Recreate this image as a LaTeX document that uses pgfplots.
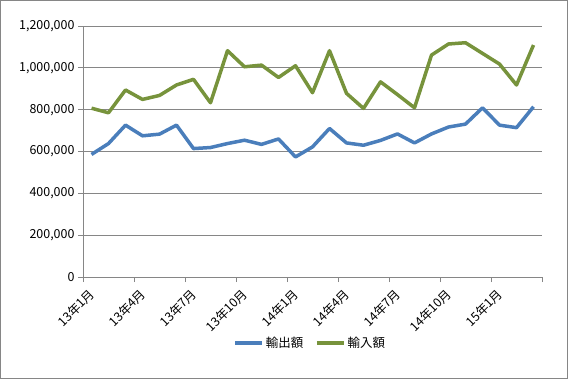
\documentclass[border=0pt]{standalone}
\usepackage{fontspec}
\setmainfont{Noto Sans CJK JP}
\usepackage{pgfplots}
\pgfplotsset{compat=1.18}
\definecolor{expblue}{RGB}{74,126,187}
\definecolor{impgreen}{RGB}{119,147,60}
\definecolor{gridgray}{RGB}{134,134,134}
\begin{document}
\begin{tikzpicture}[x=1bp,y=1bp]
\draw[gridgray, line width=1bp] (0.5,0.5) rectangle (567.5,378.5);
\begin{axis}[
  at={(83bp,102bp)}, anchor=south west,
  scale only axis, width=459bp, height=251bp,
  xmin=-0.5, xmax=26.5, ymin=0, ymax=1200000,
  axis x line*=bottom, axis y line*=left,
  axis line style={-, gridgray, line width=0.8bp},
  tick style={gridgray, line width=0.8bp},
  tick align=outside, major tick length=5bp,
  ytick={0,200000,...,1200000},
  scaled y ticks=false,
  yticklabel style={/pgf/number format/.cd, fixed, precision=0, 1000 sep={,}, assume math mode=true},
  ymajorgrids, grid style={gridgray, line width=0.8bp},
  xtick={-0.5,2.5,...,26.5},
  xticklabels={13年1月,13年4月,13年7月,13年10月,14年1月,14年4月,14年7月,14年10月,15年1月,{}},
  xticklabel style={xshift=10bp, yshift=-9bp, rotate=45, anchor=east, inner sep=1bp},
  tick label style={font=\fontsize{12.5}{14}\selectfont, black},
  legend columns=2,
  legend style={at={(0.495,-0.263)}, anchor=center, draw=none, font=\fontsize{12.5}{14}\selectfont,
    /tikz/every even column/.append style={column sep=10bp}},
  legend image code/.code={\draw[#1, line width=3.5bp] (0bp,0bp) -- (27bp,0bp);},
]
\addplot[expblue, line width=3.5bp, line join=round] coordinates {
(0,586000) (1,638000) (2,726000) (3,675000) (4,683000) (5,726000) (6,614000) (7,619000) (8,638000)
(9,654000) (10,634000) (11,660000) (12,574000) (13,622000) (14,710000) (15,641000) (16,630000) (17,653000)
(18,684000) (19,641000) (20,684000) (21,717000) (22,731000) (23,809000) (24,726000) (25,714000) (26,814000)
};
\addlegendentry{輸出額}
\addplot[impgreen, line width=3.5bp, line join=round] coordinates {
(0,807000) (1,785000) (2,894000) (3,849000) (4,868000) (5,918000) (6,945000) (7,833000) (8,1082000)
(9,1005000) (10,1013000) (11,954000) (12,1010000) (13,881000) (14,1082000) (15,878000) (16,806000) (17,933000)
(18,872000) (19,809000) (20,1061000) (21,1114000) (22,1120000) (23,1069000) (24,1018000) (25,918000) (26,1109000)
};
\addlegendentry{輸入額}
\end{axis}
\end{tikzpicture}
\end{document}
